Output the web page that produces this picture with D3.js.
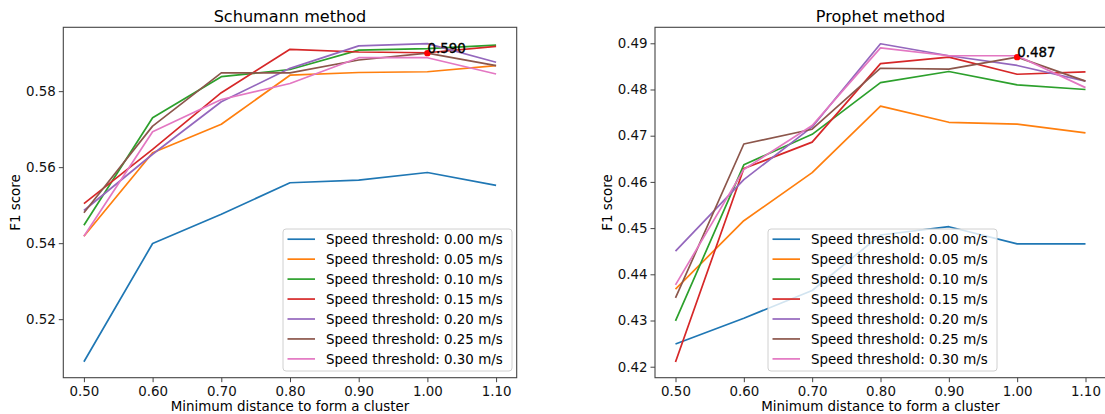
<!DOCTYPE html>
<html>
<head>
<meta charset="utf-8">
<script src="https://cdn.jsdelivr.net/npm/d3@7"></script>
<style>
  html, body { margin: 0; padding: 0; background: #fff; }
  svg { display: block; font-family: "DejaVu Sans", sans-serif; }
</style>
</head>
<body>
<svg id="chart" width="1105" height="414"></svg>
<script>
// Minimum distance to form a cluster (x values shared by both panels)
const distances = [0.50, 0.60, 0.70, 0.80, 0.90, 1.00, 1.10];
const xTicks = [0.50, 0.60, 0.70, 0.80, 0.90, 1.00, 1.10];

const seriesNames = [
  "Speed threshold: 0.00 m/s",
  "Speed threshold: 0.05 m/s",
  "Speed threshold: 0.10 m/s",
  "Speed threshold: 0.15 m/s",
  "Speed threshold: 0.20 m/s",
  "Speed threshold: 0.25 m/s",
  "Speed threshold: 0.30 m/s"
];
const seriesColors = ["#1f77b4", "#ff7f0e", "#2ca02c", "#d62728", "#9467bd", "#8c564b", "#e377c2"];

// F1 scores, Schumann method
const schumann000 = [0.5088, 0.5399, 0.5476, 0.5559, 0.5566, 0.5586, 0.5552];
const schumann005 = [0.5418, 0.5638, 0.5713, 0.5842, 0.5849, 0.5851, 0.5867];
const schumann010 = [0.5447, 0.5730, 0.5838, 0.5857, 0.5908, 0.5912, 0.5921];
const schumann015 = [0.5504, 0.5647, 0.5796, 0.5910, 0.5903, 0.5901, 0.5918];
const schumann020 = [0.5486, 0.5634, 0.5772, 0.5860, 0.5919, 0.5925, 0.5876];
const schumann025 = [0.5480, 0.5708, 0.5848, 0.5848, 0.5882, 0.5900, 0.5867];
const schumann030 = [0.5418, 0.5693, 0.5778, 0.5820, 0.5888, 0.5888, 0.5845];
const schumannTicks = [0.52, 0.54, 0.56, 0.58];
const schumannBest = { x: 1.00, y: 0.590, label: "0.590" };

// F1 scores, Prophet method
const prophet000 = [0.4249, 0.4305, 0.4365, 0.4485, 0.4503, 0.4466, 0.4466];
const prophet005 = [0.4368, 0.4516, 0.4620, 0.4764, 0.4729, 0.4725, 0.4706];
const prophet010 = [0.4299, 0.4637, 0.4703, 0.4815, 0.4839, 0.4810, 0.4800];
const prophet015 = [0.4210, 0.4629, 0.4686, 0.4856, 0.4870, 0.4833, 0.4838];
const prophet020 = [0.4450, 0.4605, 0.4719, 0.4899, 0.4873, 0.4852, 0.4818];
const prophet025 = [0.4349, 0.4682, 0.4714, 0.4846, 0.4844, 0.4870, 0.4818];
const prophet030 = [0.4377, 0.4627, 0.4722, 0.4890, 0.4873, 0.4873, 0.4804];
const prophetTicks = [0.42, 0.43, 0.44, 0.45, 0.46, 0.47, 0.48, 0.49];
const prophetBest = { x: 1.00, y: 0.487, label: "0.487" };

const panels = [
  {
    title: "Schumann method",
    series: [schumann000, schumann005, schumann010, schumann015, schumann020, schumann025, schumann030],
    yTicks: schumannTicks,
    yDomain: [0.5046, 0.5968],
    best: schumannBest,
    box: { left: 63.3, right: 516.7, top: 27.3, bottom: 377.7 },
    legend: { x: 283, y: 229, w: 229, h: 142 }
  },
  {
    title: "Prophet method",
    series: [prophet000, prophet005, prophet010, prophet015, prophet020, prophet025, prophet030],
    yTicks: prophetTicks,
    yDomain: [0.41762, 0.49346],
    best: prophetBest,
    box: { left: 655, right: 1106, top: 27.3, bottom: 377.7 },
    legend: { x: 768, y: 229, w: 229, h: 142 }
  }
];

const svg = d3.select("#chart");
const FS = 13.4;
const axisColor = "#444";

panels.forEach(p => {
  const b = p.box;
  const x = d3.scaleLinear().domain([0.47, 1.13]).range([b.left, b.right]);
  const y = d3.scaleLinear().domain(p.yDomain).range([b.bottom, b.top]);
  const g = svg.append("g");

  // Data lines
  const line = d3.line().x((d, i) => x(distances[i])).y(d => y(d));
  p.series.forEach((vals, i) => {
    g.append("path")
      .datum(vals)
      .attr("d", line)
      .attr("fill", "none")
      .attr("stroke", seriesColors[i])
      .attr("stroke-width", 1.7)
      .attr("stroke-linejoin", "round");
  });

  // Best-score marker and label
  g.append("circle")
    .attr("cx", x(p.best.x)).attr("cy", y(p.best.y))
    .attr("r", 3.2).attr("fill", "#ff0000");
  g.append("text")
    .attr("x", x(p.best.x)).attr("y", y(p.best.y))
    .attr("font-size", FS).attr("fill", "#000")
    .attr("stroke", "#000").attr("stroke-width", 0.35)
    .text(p.best.label);

  // Axes
  const xAxis = d3.axisBottom(x).tickValues(xTicks).tickFormat(d3.format(".2f")).tickSize(4.5).tickPadding(4);
  const yAxis = d3.axisLeft(y).tickValues(p.yTicks).tickFormat(d3.format(".2f")).tickSize(4.5).tickPadding(3);

  const gx = g.append("g").attr("transform", `translate(0,${b.bottom})`).call(xAxis);
  const gy = g.append("g").attr("transform", `translate(${b.left},0)`).call(yAxis);
  [gx, gy].forEach(a => {
    a.select(".domain").remove();
    a.selectAll(".tick line").attr("stroke", axisColor).attr("stroke-width", 1);
    a.selectAll(".tick text").attr("fill", "#111").attr("font-size", FS).attr("font-family", "DejaVu Sans");
  });

  // Frame
  g.append("rect")
    .attr("x", b.left).attr("y", b.top)
    .attr("width", b.right - b.left).attr("height", b.bottom - b.top)
    .attr("fill", "none").attr("stroke", axisColor).attr("stroke-width", 1.1);

  // Title and axis labels
  const cx = (b.left + Math.min(b.right, 1103)) / 2;
  g.append("text")
    .attr("x", (b.left + b.right) / 2).attr("y", 22)
    .attr("text-anchor", "middle").attr("font-size", 16.1).attr("fill", "#000")
    .text(p.title);
  g.append("text")
    .attr("x", (b.left + b.right) / 2).attr("y", 411)
    .attr("text-anchor", "middle").attr("font-size", FS).attr("fill", "#000")
    .text("Minimum distance to form a cluster");
  g.append("text")
    .attr("transform", `translate(${b.left - 43},${(b.top + b.bottom) / 2}) rotate(-90)`)
    .attr("text-anchor", "middle").attr("font-size", FS).attr("fill", "#000")
    .text("F1 score");

  // Legend
  const L = p.legend;
  const lg = g.append("g").attr("transform", `translate(${L.x},${L.y})`);
  lg.append("rect")
    .attr("width", L.w).attr("height", L.h).attr("rx", 3)
    .attr("fill", "#fff").attr("fill-opacity", 0.8)
    .attr("stroke", "#d0d0d0").attr("stroke-width", 1);
  seriesNames.forEach((name, i) => {
    const ry = 10.2 + i * 19.95;
    lg.append("line")
      .attr("x1", 4.5).attr("x2", 32).attr("y1", ry).attr("y2", ry)
      .attr("stroke", seriesColors[i]).attr("stroke-width", 1.7);
    lg.append("text")
      .attr("x", 43).attr("y", ry + 4.8)
      .attr("font-size", FS).attr("fill", "#000")
      .text(name);
  });
});
</script>
</body>
</html>
